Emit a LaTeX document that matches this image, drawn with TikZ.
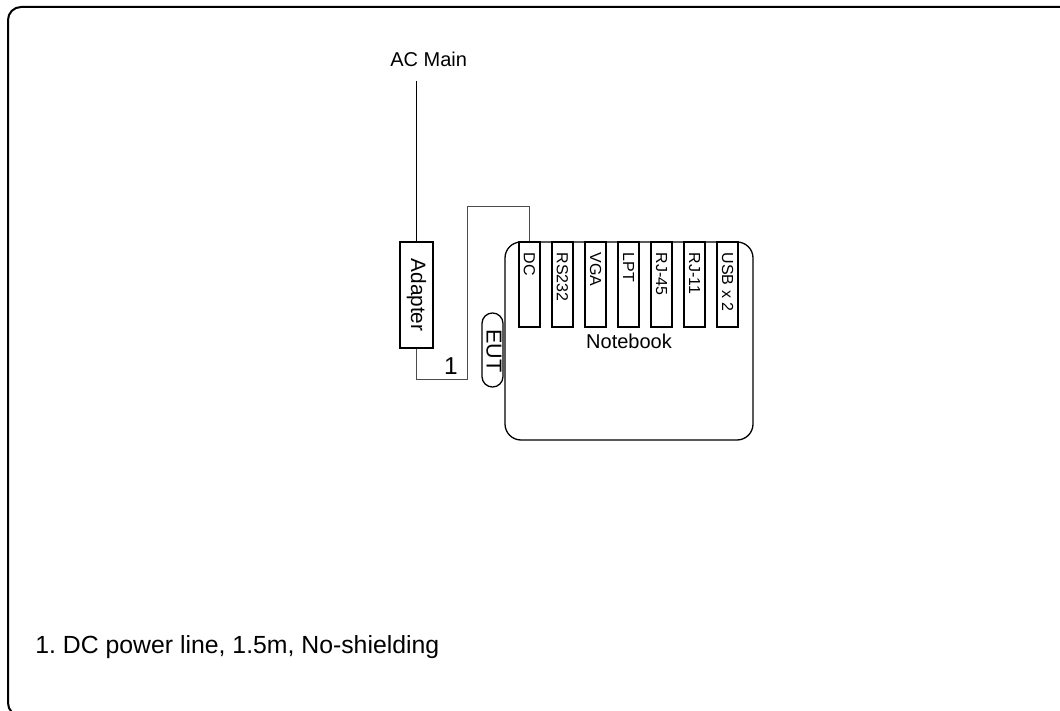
\documentclass[tikz,border=0pt]{standalone}
\usepackage{fontspec}
\setmainfont{Liberation Sans}
\usetikzlibrary{positioning, calc}
\frenchspacing
\tikzset{
	frame/.style={draw, line width=1pt, rounded corners=6.5pt},
	unit/.style={draw, line width=0.65pt, inner sep=0pt},
	port/.style={unit, minimum width=10.5pt, minimum height=42.5pt},
	portlabel/.style={rotate=-90, anchor=west, inner sep=0pt, font=\fontsize{8}{9}\selectfont},
	wire/.style={draw, line width=0.65pt},
	cable/.style={draw, line width=0.5pt, black!70}
}

\begin{document}
\begin{tikzpicture}[x=0.5pt, y=-0.5pt]
		% Page size and outer frame
		\useasboundingbox (0,0) rectangle (1060,711);
		\clip (0,0) rectangle (1060,711);
		\draw[frame] (8,7) rectangle (1075,716);
		
		% Power source
		\node[inner sep=0pt, anchor=base, font=\fontsize{10}{12}\selectfont] (ac) at (428.7,67) {AC Main};
		\coordinate (acend) at (416.5,81);
		
		% Adapter box with vertical text
		\node[unit, minimum width=16.5pt, minimum height=53pt] (adapter) at (416.5,295) {};
		\node[rotate=-90, inner sep=0pt, font=\fontsize{10.4}{12}\selectfont] at (adapter) {Adapter};
		\draw[wire] (acend) -- (adapter.north);
		
		% EUT tag on the left side of the notebook
		\node[unit, minimum width=10.5pt, minimum height=37pt, rounded corners=5.2pt] (eut) at (492.5,350) {};
		\node[rotate=-90, inner sep=0pt, font=\fontsize{10.8}{12}\selectfont] at (494,351) {EUT};
		
		% Notebook body
		\node[unit, minimum width=124pt, minimum height=99pt, rounded corners=8pt] (notebook) at (629,341) {};
		\node[inner sep=0pt, anchor=base, font=\fontsize{10}{12}\selectfont] (nblabel) at (629,348) {Notebook};
		
		% Ports along the top edge
		\foreach \name [count=\i from 0] in {DC, RS232, VGA, LPT, RJ-45, RJ-11, USB x 2} {
			\node[port] (port\i) at (529.5+33*\i,284.5) {};
			\node[portlabel] at ($(port\i.north)+(0,11)$) {\name};
		}
		
		% DC power line (1)
		\coordinate (bend1) at (467,379);
		\coordinate (bend2) at (467,207);
		\draw[cable] (adapter.south) |- (bend1) -- (bend2) -| (port0.north);
		\node[inner sep=0pt, anchor=base, font=\fontsize{12.2}{14}\selectfont] (cablenum) at (451,374) {1};
		
		% Legend
		\node[inner sep=0pt, anchor=base west, font=\fontsize{12.4}{14}\selectfont] (legend) at (35,653) {1. DC power line, 1.5m, No-shielding};
		
	\end{tikzpicture}
\end{document}
